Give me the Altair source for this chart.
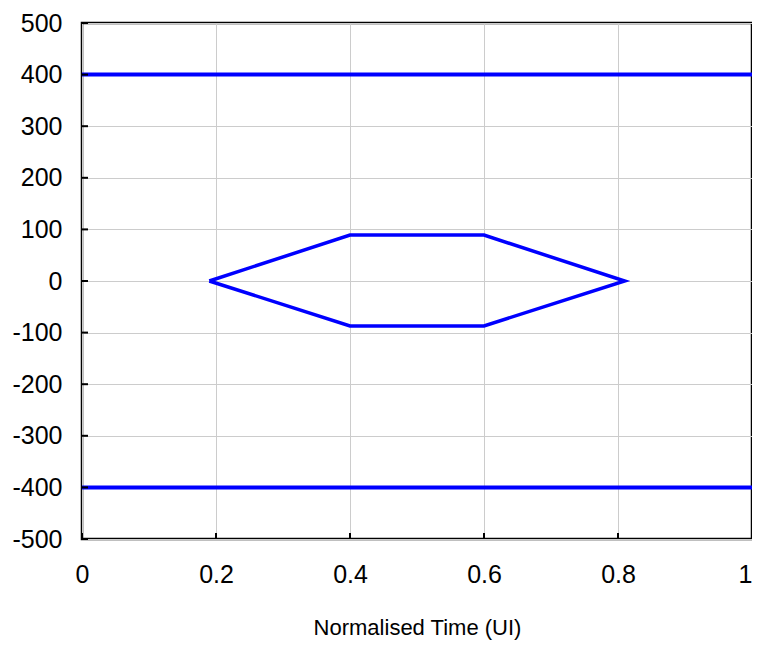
import altair as alt
import pandas as pd

# Eye mask data
hex_x = [0.19, 0.40, 0.60, 0.81, 0.60, 0.40, 0.19]
hex_y = [0, 89, 89, 0, -87, -87, 0]
upper_x = [0, 1]
upper_y = [400, 400]
lower_x = [0, 1]
lower_y = [-400, -400]

x_ticks = [0, 0.2, 0.4, 0.6, 0.8, 1.0]
y_ticks = [-500, -400, -300, -200, -100, 0, 100, 200, 300, 400, 500]

W, H = 670, 516
BLUE = "#0000FF"

hex_df = pd.DataFrame({"x": hex_x, "y": hex_y, "order": list(range(len(hex_x)))})
lim_df = pd.DataFrame({
    "x": upper_x + lower_x,
    "y": upper_y + lower_y,
    "series": ["upper"] * 2 + ["lower"] * 2,
})
xt_df = pd.DataFrame({"x": x_ticks})
yt_df = pd.DataFrame({"y": y_ticks})

xscale = alt.Scale(domain=[0, 1], nice=False, zero=False)
yscale = alt.Scale(domain=[-500, 500], nice=False, zero=False)

xaxis = alt.Axis(values=x_ticks, format="~g", title="Normalised Time (UI)",
                 grid=True, gridColor="#cccccc", gridWidth=1, ticks=False,
                 domain=False, labelFontSize=25, labelPadding=23,
                 labelOffset=alt.condition("datum.value == 1", alt.value(-7), alt.value(0)),
                 labelColor="#000000", titleFontSize=22, titleFontWeight="normal",
                 titleColor="#000000", titlePadding=30, labelFlush=False)
yaxis = alt.Axis(values=y_ticks, title=None,
                 labelExpr="datum.value < 0 ? '-' + abs(datum.value) : '' + datum.value",
                 grid=True, gridColor="#cccccc", gridWidth=1, ticks=False,
                 domain=False, labelFontSize=25, labelPadding=20,
                 labelColor="#000000", labelFlush=False)

limits = alt.Chart(lim_df).mark_line(color=BLUE, strokeWidth=4).encode(
    x=alt.X("x:Q", scale=xscale, axis=xaxis),
    y=alt.Y("y:Q", scale=yscale, axis=yaxis),
    detail="series:N",
)

hexagon = alt.Chart(hex_df).mark_line(color=BLUE, strokeWidth=3.5).encode(
    x=alt.X("x:Q", scale=xscale),
    y=alt.Y("y:Q", scale=yscale),
    order="order:Q",
)

xticks = alt.Chart(xt_df).mark_rule(color="#000000", strokeWidth=2).encode(
    x=alt.X("x:Q", scale=xscale),
    y=alt.value(H),
    y2=alt.value(H - 6),
)
yticks = alt.Chart(yt_df).mark_rule(color="#000000", strokeWidth=2).encode(
    y=alt.Y("y:Q", scale=yscale),
    x=alt.value(0),
    x2=alt.value(6),
)

chart = alt.layer(limits, hexagon, xticks, yticks).properties(
    width=W, height=H,
    autosize=alt.AutoSizeParams(type="none"),
    padding={"left": 74, "top": 15, "right": 0, "bottom": 104},
).configure(
    font="Liberation Sans"
).configure_view(
    stroke="#000000", strokeWidth=2.5
)

chart.save("out.html", embed_options={"renderer": "svg", "actions": False})
